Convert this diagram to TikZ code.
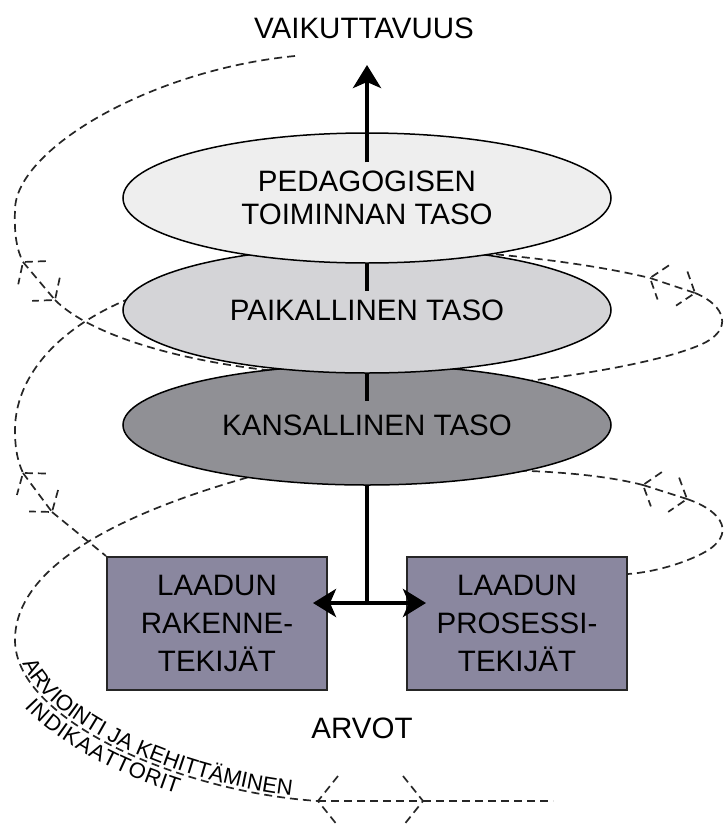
\documentclass[tikz,border=0pt]{standalone}
\usepackage{fontspec}
\setmainfont{Liberation Sans}
\usetikzlibrary{shapes.geometric,arrows.meta,backgrounds,decorations.markings,decorations.text}
\definecolor{tasoA}{HTML}{EEEEEE}
\definecolor{tasoB}{HTML}{D4D4D7}
\definecolor{tasoC}{HTML}{909095}
\definecolor{laatu}{HTML}{8A879F}
\newcommand\isofontti{\fontsize{14.75}{16.5}\selectfont}
\newcommand\pienifontti{\fontsize{11}{12}\selectfont}

\begin{document}
\begin{tikzpicture}[x=0.5pt, y=-0.5pt,
    taso/.style={
        ellipse,
        draw=black,
        line width=0.75pt,
        inner sep=0pt,
        minimum width=244pt,
        align=center,
        font=\isofontti
    },
    tekija/.style={
        rectangle,
        draw=black!85,
        line width=1pt,
        fill=laatu,
        minimum width=110pt,
        minimum height=66.5pt,
        align=center,
        font=\fontsize{14.75}{19}\selectfont
    },
    otsikko/.style={font=\isofontti, inner sep=0pt},
    palkki/.style={line width=2.25pt},
    karki/.tip={Stealth[length=11.5pt, width=14pt, inset=3pt]},
    kiekura/.style={draw=black!85, line width=0.85pt, dash pattern=on 4pt off 2.5pt},
    kaksikarki/.style 2 args={
        kiekura,
        postaction={decorate},
        decoration={markings,
            mark=at position 0 with {\draw[kiekura] (#1,#2) -- (0pt,0pt) -- (#1,-#2);},
            mark=at position 1 with {\draw[kiekura] (-#1,#2) -- (0pt,0pt) -- (-#1,-#2);}}
    }
]
\useasboundingbox (0,0) rectangle (725,830);

% Tasot (alin ensin)
\node[taso, fill=tasoC, minimum height=60pt] (kans) at (367,425) {KANSALLINEN TASO};
\node[taso, fill=tasoB, minimum height=63pt] (paik) at (367,310) {PAIKALLINEN TASO};
\node[taso, fill=tasoA, minimum height=65pt] (peda) at (367,198) {PEDAGOGISEN\\TOIMINNAN TASO};

% Laatutekijät
\node[tekija] (rake) at (217,623.5) {LAADUN\\RAKENNE-\\TEKIJÄT};
\node[tekija] (prose) at (517,623.5) {LAADUN\\PROSESSI-\\TEKIJÄT};

% Otsikot
\node[otsikko] (vaik) at (364,28) {VAIKUTTAVUUS};
\node[otsikko] (arvot) at (362,728) {ARVOT};

% Pystyakseli
\coordinate (karkipiste) at (367,65);
\coordinate (haara) at (367,603);
\draw[palkki, -karki] ([yshift=-15pt]peda.north) -- (karkipiste);
\draw[palkki] (peda.south) -- ++(0,27);
\draw[palkki] (paik.south) -- ++(0,27);
\draw[palkki] (kans.south) -- (haara);
\path (rake.east |- haara) coordinate (vasen) (prose.west |- haara) coordinate (oikea);
\draw[palkki, karki-karki] ([xshift=-7.5pt]vasen) -- ([xshift=10pt]oikea);

% Kiekurat tasojen taakse
\coordinate (a0) at (295,56);
\coordinate (a1) at (23,262);
\coordinate (a2) at (55,300);
\coordinate (a3) at (285,372);
\coordinate (b0) at (180,282);
\coordinate (b1) at (23,473);
\coordinate (b2) at (52,512);
\coordinate (c0) at (260,474);
\coordinate (c1) at (318,801);
\coordinate (c2) at (423,801);
\coordinate (c3) at (553,801);
\coordinate (r0) at (470,252);
\coordinate (r1) at (650,278);
\coordinate (r2) at (695,293);
\coordinate (r3) at (520,382);
\coordinate (s0) at (480,470);
\coordinate (s1) at (643,485);
\coordinate (s2) at (687,499);
\begin{pgfonlayer}{background}
% vasen puoli
\draw[kiekura] (a0) .. controls (150,70) and (15,150) .. (15,210)
    .. controls (14,235) and (17,250) .. (a1);
\draw[kaksikarki={7pt}{9pt}] (a1) -- (a2);
\draw[kiekura] (a2) .. controls (90,335) and (180,362) .. (a3);
\draw[kiekura] (b0) .. controls (70,310) and (15,370) .. (15,430)
    .. controls (15,450) and (18,462) .. (b1);
\draw[kaksikarki={7pt}{9pt}] (b1) -- (b2);
\draw[kiekura] (b2) -- (rake.north west);
\draw[kiekura] (c0) .. controls (110,515) and (15,570) .. (15,640)
    .. controls (15,720) and (180,792) .. (c1);
\draw[kaksikarki={10pt}{12.5pt}] (c1) -- (c2);
\draw[kiekura] (c2) -- (c3);
% oikea puoli
\draw[kiekura] (r0) .. controls (540,258) and (600,266) .. (r1);
\draw[kaksikarki={7pt}{9pt}] (r1) -- (r2);
\draw[kiekura] (r2) .. controls (725,305) and (735,330) .. (700,345)
    .. controls (660,362) and (580,375) .. (r3);
\draw[kiekura] (s0) .. controls (540,470) and (600,474) .. (s1);
\draw[kaksikarki={7pt}{9pt}] (s1) -- (s2);
\draw[kiekura] (s2) .. controls (725,512) and (735,535) .. (705,552)
    .. controls (685,563) and (655,572) .. ([yshift=-9pt]prose.north east);
\end{pgfonlayer}

% Teksti kaaren mukaan
\path[decorate, decoration={text along path, raise=1.5pt,
    text align={left indent=13pt},
    text={|\pienifontti|ARVIOINTI JA KEHITTÄMINEN}}]
    (15,640) .. controls (15,720) and (180,792) .. (c1);
\path[decorate, decoration={text along path, raise=-10pt,
    text align={left indent=30pt},
    text={|\pienifontti|INDIKAATTORIT}}]
    (15,640) .. controls (15,720) and (180,792) .. (c1);

\end{tikzpicture}
\end{document}
